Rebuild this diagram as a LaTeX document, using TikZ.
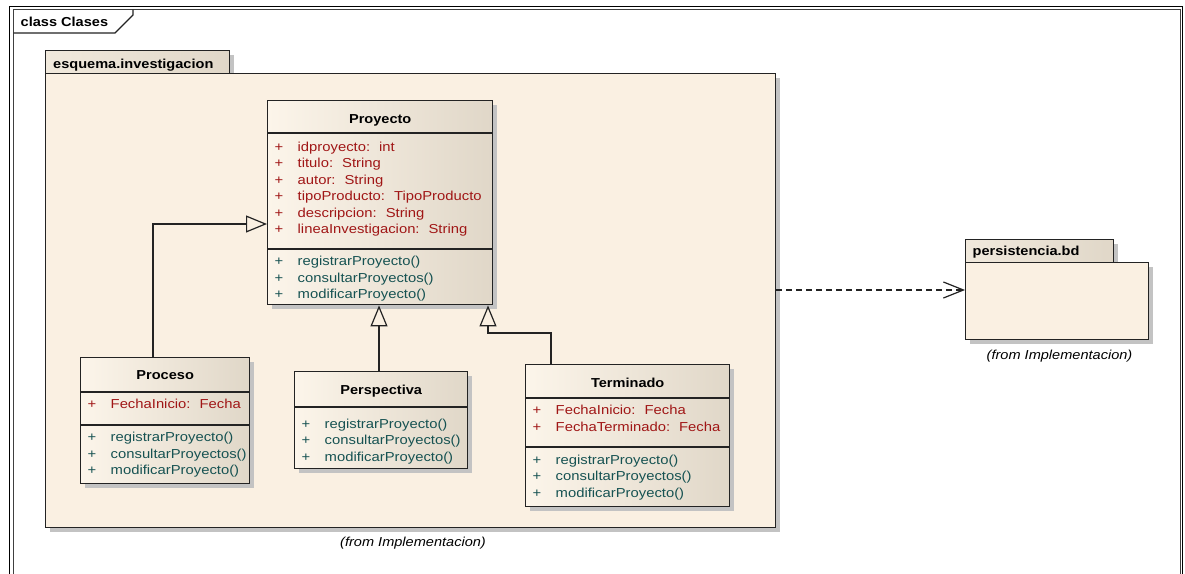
\documentclass[tikz,border=0pt]{standalone}
\usepackage{fontspec}
\setmainfont{Liberation Sans}[FakeStretch=1.14]
\newfontfamily\headfont{Liberation Sans}[FakeStretch=1.12]
\usetikzlibrary{arrows.meta,calc,shadows}

\definecolor{paper}{RGB}{250,240,226}
\definecolor{shadeL}{RGB}{252,245,234}
\definecolor{shadeR}{RGB}{224,215,200}
\definecolor{attrred}{RGB}{160,22,22}
\definecolor{opteal}{RGB}{22,82,82}
\definecolor{shadowgray}{RGB}{195,195,195}
\definecolor{edge}{RGB}{35,35,35}

\tikzset{
  boxshadow/.style={drop shadow={shadow xshift=4pt, shadow yshift=-4pt, fill=shadowgray, opacity=1}},
  classbox/.style={draw=edge, line width=1.4pt, left color=shadeL, right color=shadeR, boxshadow, anchor=north west, inner sep=0},
  pkgbody/.style={draw=edge, line width=1.4pt, fill=paper, boxshadow, anchor=north west, inner sep=0},
  pkgtab/.style={draw=edge, line width=1.4pt, left color=shadeL!60!shadeR, right color=shadeR, boxshadow, anchor=north west, inner sep=0},
  divider/.style={draw=edge, line width=1.2pt},
  classname/.style={font=\headfont\fontsize{13}{15}\selectfont\bfseries, anchor=base, inner sep=0},
  tabtext/.style={font=\headfont\fontsize{13}{15}\selectfont\bfseries, anchor=base west, inner sep=0},
  membertext/.style={font=\fontsize{13}{15}\selectfont, anchor=base west, inner sep=0},
  fromtext/.style={font=\headfont\fontsize{13}{15}\selectfont\itshape, anchor=base west, inner sep=0},
  gen/.style={draw=edge, line width=1.3pt, -{Triangle[open, length=21pt, width=17pt, line width=1.2pt]}},
  dep/.style={draw=edge, line width=1.3pt, dash pattern=on 6pt off 4pt, -{Straight Barb[length=20pt, width=16pt, line width=1.2pt]}},
}

% one "+ name" row of a class compartment: id, class node, baseline offset, colour, text
\newcommand\umlrow[5]{%
  \node[membertext, text=#4] (#1p) at ($(#2.north west)+(7.5,#3)$) {+};
  \node[membertext, text=#4] (#1) at ($(#2.north west)+(30.5,#3)$) {#5};}
\newcommand\typegap{\hspace{9pt}}
% horizontal compartment line at a given depth below the top of a class
\newcommand\compline[2]{%
  \draw[divider] ($(#1.north west)+(0,#2)$) -- ($(#1.north east)+(0,#2)$);}

\begin{document}
\begin{tikzpicture}[x=1pt, y=-1pt]
\useasboundingbox (0,0) rectangle (1185,573);
\fill[white] (0,0) rectangle (1185,573);

% diagram frame with its name tab
\draw[line width=1.5pt, black] (9.5,6.5) rectangle (1182.7,600);
\draw[line width=1pt, black!75] (13.5,9.5) rectangle (1180.5,600);
\draw[line width=1.2pt, edge] (133,9.5) -- (133,15) -- (115,33) -- (13.5,33);
\node[tabtext] (framename) at (20.5,26.7) {class Clases};

% package esquema.investigacion
\node[pkgtab, minimum width=184pt, minimum height=23pt] (pkgtab) at (45,50) {};
\node[pkgbody, minimum width=730pt, minimum height=454pt] (pkg) at (45,73) {};
\node[tabtext] (pkgname) at (53,68) {esquema.investigacion};
\node[fromtext] (pkgfrom) at (340,546.7) {(from Implementacion)};

% package persistencia.bd
\node[pkgtab, minimum width=148pt, minimum height=23pt] (perstab) at (965,239) {};
\node[pkgbody, minimum width=183pt, minimum height=77pt] (pers) at (965,262) {};
\node[tabtext] (persname) at (972.5,255) {persistencia.bd};
\node[fromtext] (persfrom) at (986.5,359) {(from Implementacion)};

% class Proyecto
\node[classbox, minimum width=225pt, minimum height=204pt] (proy) at (267,100) {};
\compline{proy}{33}
\compline{proy}{149}
\node[classname] (proyname) at ($(proy.north)+(0,23.3)$) {Proyecto};
\umlrow{pa1}{proy}{51}{attrred}{idproyecto:\typegap int}
\umlrow{pa2}{proy}{67.5}{attrred}{titulo:\typegap String}
\umlrow{pa3}{proy}{84}{attrred}{autor:\typegap String}
\umlrow{pa4}{proy}{100.5}{attrred}{tipoProducto:\typegap TipoProducto}
\umlrow{pa5}{proy}{117}{attrred}{descripcion:\typegap String}
\umlrow{pa6}{proy}{133.5}{attrred}{lineaInvestigacion:\typegap String}
\umlrow{po1}{proy}{165.5}{opteal}{registrarProyecto()}
\umlrow{po2}{proy}{182}{opteal}{consultarProyectos()}
\umlrow{po3}{proy}{198.5}{opteal}{modificarProyecto()}

% class Proceso
\node[classbox, minimum width=169pt, minimum height=126pt] (proc) at (80,357) {};
\compline{proc}{35}
\compline{proc}{68}
\node[classname] (procname) at ($(proc.north)+(0,22)$) {Proceso};
\umlrow{ca1}{proc}{51}{attrred}{FechaInicio:\typegap Fecha}
\umlrow{co1}{proc}{84.5}{opteal}{registrarProyecto()}
\umlrow{co2}{proc}{101}{opteal}{consultarProyectos()}
\umlrow{co3}{proc}{117.5}{opteal}{modificarProyecto()}

% class Perspectiva
\node[classbox, minimum width=173pt, minimum height=97pt] (persp) at (294,371) {};
\compline{persp}{36}
\node[classname] (perspname) at ($(persp.north)+(0,23.3)$) {Perspectiva};
\umlrow{so1}{persp}{57}{opteal}{registrarProyecto()}
\umlrow{so2}{persp}{73.5}{opteal}{consultarProyectos()}
\umlrow{so3}{persp}{90}{opteal}{modificarProyecto()}

% class Terminado
\node[classbox, minimum width=204pt, minimum height=142pt] (term) at (525,364) {};
\compline{term}{34}
\compline{term}{83}
\node[classname] (termname) at ($(term.north)+(0,23.3)$) {Terminado};
\umlrow{ta1}{term}{50.3}{attrred}{FechaInicio:\typegap Fecha}
\umlrow{ta2}{term}{67}{attrred}{FechaTerminado:\typegap Fecha}
\umlrow{to1}{term}{100}{opteal}{registrarProyecto()}
\umlrow{to2}{term}{116.5}{opteal}{consultarProyectos()}
\umlrow{to3}{term}{133}{opteal}{modificarProyecto()}

% generalizations
\coordinate (bendA) at (153,224);
\draw[gen] (proc.north -| bendA) |- (proy.west |- bendA);
\coordinate (bendB) at (379,0);
\draw[gen] (persp.north -| bendB) -- (proy.south -| bendB);
\coordinate (bendC) at (551,333);
\coordinate (bendD) at (488,333);
\draw[gen] (term.north -| bendC) -- (bendC) -- (bendD) -- (proy.south -| bendD);

% package dependency
\coordinate (depY) at (0,290);
\draw[dep] (pkg.east |- depY) -- (pers.west |- depY);
\end{tikzpicture}
\end{document}
